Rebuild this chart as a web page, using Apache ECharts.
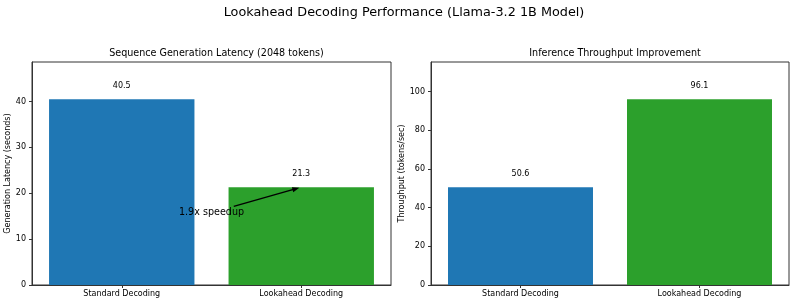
<!DOCTYPE html>
<html>
<head>
<meta charset="utf-8">
<script src="https://cdn.jsdelivr.net/npm/echarts@6/dist/echarts.min.js"></script>
<style>
html,body{margin:0;padding:0;background:#fff;}
#chart{width:798px;height:304px;}
</style>
</head>
<body>
<div id="chart"></div>
<script>
// ---- data ----
const categories = ['Standard Decoding', 'Lookahead Decoding'];
const latencyValues = [40.5, 21.3];
const throughputValues = [50.6, 96.1];
const latencyTicks = [0, 10, 20, 30, 40];
const throughputTicks = [0, 20, 40, 60, 80, 100];
const barColors = ['#1f77b4', '#2ca02c'];
const mainTitle = 'Lookahead Decoding Performance (Llama-3.2 1B Model)';
const leftTitle = 'Sequence Generation Latency (2048 tokens)';
const rightTitle = 'Inference Throughput Improvement';
const leftYName = 'Generation Latency (seconds)';
const rightYName = 'Throughput (tokens/sec)';
// annotation: text at (x index 0.5, value 15), arrow to (index 1, 21.3)
const annotText = '1.9x speedup';
const annotTextPos = [0.5, 15];
const annotArrowTo = [1, 21.3];

const FONT = 'DejaVu Sans';
const chart = echarts.init(document.getElementById('chart'), null, {renderer: 'canvas'});

function yAxis(gi, ticks, maxVal, name, gap) {
  return {
    type: 'value', gridIndex: gi, min: 0, max: maxVal * 1.2,
    interval: ticks[1] - ticks[0],
    name: name, nameLocation: 'middle', nameGap: gap, nameRotate: 90,
    nameTextStyle: {fontFamily: FONT, fontSize: 8, color: '#000'},
    axisLine: {show: true, lineStyle: {color: '#333', width: 1}},
    axisTick: {show: true, length: 3, lineStyle: {color: '#333'}, customValues: ticks},
    axisLabel: {fontFamily: FONT, fontSize: 8, color: '#000', margin: 6, customValues: ticks},
    splitLine: {show: false}
  };
}
function xAxis(gi) {
  return {
    type: 'category', gridIndex: gi, data: categories, boundaryGap: true,
    axisLine: {show: true, lineStyle: {color: '#333', width: 1}},
    axisTick: {show: true, alignWithLabel: true, length: 3, lineStyle: {color: '#333'}},
    axisLabel: {fontFamily: FONT, fontSize: 8, color: '#000', margin: 5},
    splitLine: {show: false}
  };
}
function barSeries(gi, vals) {
  return {
    type: 'bar', xAxisIndex: gi, yAxisIndex: gi, barWidth: '81%',
    data: vals.map((v, i) => ({value: v, itemStyle: {color: barColors[i]}})),
    label: {show: true, position: 'top', distance: 9, fontFamily: FONT, fontSize: 8, color: '#000',
      formatter: p => p.value.toFixed(1)},
    silent: true
  };
}

chart.setOption({
  animation: false,
  backgroundColor: '#fff',
  title: [
    {text: mainTitle, left: 399, top: 1, textAlign: 'center',
      textStyle: {fontFamily: FONT, fontSize: 12.8, fontWeight: 'normal', color: '#000'}},
    {text: leftTitle, left: 211.5, top: 43, textAlign: 'center',
      textStyle: {fontFamily: FONT, fontSize: 9.6, fontWeight: 'normal', color: '#000'}},
    {text: rightTitle, left: 610, top: 43, textAlign: 'center',
      textStyle: {fontFamily: FONT, fontSize: 9.6, fontWeight: 'normal', color: '#000'}}
  ],
  grid: [
    {left: 32, right: 407, top: 62, bottom: 19, show: true, borderColor: '#333', borderWidth: 1, backgroundColor: 'transparent'},
    {left: 431, right: 9, top: 62, bottom: 19, show: true, borderColor: '#333', borderWidth: 1, backgroundColor: 'transparent'}
  ],
  xAxis: [xAxis(0), xAxis(1)],
  yAxis: [
    yAxis(0, latencyTicks, Math.max(...latencyValues), leftYName, 19),
    yAxis(1, throughputTicks, Math.max(...throughputValues), rightYName, 22)
  ],
  series: [barSeries(0, latencyValues), barSeries(1, throughputValues)]
});

// ---- annotation (computed through the axes) ----
function toPx(pt) {
  const i0 = Math.floor(pt[0]), i1 = Math.ceil(pt[0]);
  const p0 = chart.convertToPixel({xAxisIndex: 0, yAxisIndex: 0}, [i0, pt[1]]);
  const p1 = chart.convertToPixel({xAxisIndex: 0, yAxisIndex: 0}, [i1, pt[1]]);
  const f = pt[0] - i0;
  return [p0[0] + (p1[0] - p0[0]) * f, p0[1]];
}
const fs = 9.6;
const base = toPx(annotTextPos);       // text baseline point
const tgt = toPx(annotArrowTo);
const ctx = document.createElement('canvas').getContext('2d');
ctx.font = fs + 'px "' + FONT + '"';
const tw = ctx.measureText(annotText).width;
const cx = base[0], cy = base[1] - fs * 0.36;
// clip from text box edge
const dx = tgt[0] - cx, dy = tgt[1] - cy;
const hw = tw / 2 + 1, hh = fs * 0.6;
let t = Math.min(Math.abs(hw / dx), Math.abs(hh / dy));
const len = Math.hypot(dx, dy);
const ux = dx / len, uy = dy / len;
const sx = cx + dx * t + ux * 2, sy = cy + dy * t + uy * 2;
const ex = tgt[0] - ux * 2, ey = tgt[1] - uy * 2;
const hl = 7, hwid = 2.6;
const bx = ex - ux * hl, by = ey - uy * hl;
const nx = -uy, ny = ux;

chart.setOption({
  graphic: [
    {type: 'line', silent: true, z: 100,
      shape: {x1: sx, y1: sy, x2: bx + ux * 1, y2: by + uy * 1},
      style: {stroke: '#000', lineWidth: 1.4}},
    {type: 'polygon', silent: true, z: 100,
      shape: {points: [[ex, ey], [bx + nx * hwid, by + ny * hwid], [bx - nx * hwid, by - ny * hwid]]},
      style: {fill: '#000'}},
    {type: 'text', silent: true, z: 100, x: cx, y: cy,
      style: {text: annotText, fontFamily: FONT, fontSize: fs, fill: '#000', align: 'center', verticalAlign: 'middle'}}
  ]
});
</script>
</body>
</html>
